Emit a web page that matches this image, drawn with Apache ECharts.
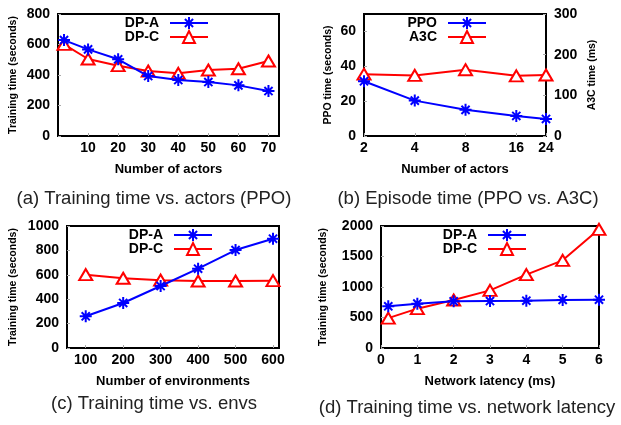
<!DOCTYPE html>
<html><head><meta charset="utf-8">
<script src="https://cdn.jsdelivr.net/npm/echarts@6/dist/echarts.min.js"></script>
<style>html,body{margin:0;padding:0;background:#fff}#c{width:621px;height:425px}</style>
</head><body><div id="c"></div>
<script>
// (a) Training time vs. actors (PPO)
const actorsA = [2, 10, 20, 30, 40, 50, 60, 70];
const dpA_actors = [629, 568, 503, 393, 367, 354, 332, 295];
const dpC_actors = [601, 505, 461, 426, 411, 433, 441, 492];
// (b) Episode time (PPO vs. A3C)
const actorsB = [2, 4, 8, 16, 24];
const ppoTime = [31.4, 20.3, 15.0, 11.5, 9.8];
const a3cTime = [152, 149, 163, 148, 150];
// (c) Training time vs. envs
const envs = [100, 200, 300, 400, 500, 600];
const dpA_envs = [260, 369, 508, 650, 803, 896];
const dpC_envs = [601, 572, 556, 549, 549, 552];
// (d) Training time vs. network latency
const latency = [0.2, 1, 2, 3, 4, 5, 6];
const dpA_lat = [683, 727, 765, 770, 776, 787, 792];
const dpC_lat = [490, 645, 787, 945, 1202, 1437, 1945];
// tick labels
const ticksXA = [10, 20, 30, 40, 50, 60, 70];
const ticksXB = [2, 4, 8, 16, 24];
const ticksXC = [100, 200, 300, 400, 500, 600];
const ticksYBLeft = [0, 20, 40, 60];
const captions = ['(a) Training time vs. actors (PPO)', '(b) Episode time (PPO vs. A3C)', '(c) Training time vs. envs', '(d) Training time vs. network latency'];

const FONT = 'Liberation Sans';
const BLUE = '#0000ff', RED = '#ff0000';
const STAR = 'path://M0,5L10,5M5,0L5,10M1.6,1.6L8.4,8.4M8.4,1.6L1.6,8.4';
const pairs = (xs, ys) => xs.map((x, i) => [x, ys[i]]);
const plain = (v) => String(v);

const labelStyle = {fontFamily: FONT, fontWeight: 'bold', fontSize: 14, color: '#000', formatter: plain};
const nameStyleX = {fontFamily: FONT, fontWeight: 'bold', fontSize: 13, color: '#000'};
const nameStyleY = {fontFamily: FONT, fontWeight: 'bold', fontSize: 10.5, color: '#000'};
const tick = (vals) => ({show: true, inside: true, length: 3, lineStyle: {color: '#aaa', width: 1}, customValues: vals});

function xAxis(grid, opt) {
  return Object.assign({
    gridIndex: grid, type: 'value', nameLocation: 'middle', nameGap: 27,
    nameTextStyle: nameStyleX, axisLine: {show: false}, splitLine: {show: false},
    axisLabel: Object.assign({margin: 5}, labelStyle)
  }, opt);
}
function yAxis(grid, opt) {
  return Object.assign({
    gridIndex: grid, type: 'value', nameLocation: 'middle', nameRotate: 90,
    nameTextStyle: nameStyleY, axisLine: {show: false}, splitLine: {show: false},
    axisLabel: Object.assign({margin: 8}, labelStyle),
    axisTick: {show: true, inside: true, length: 3, lineStyle: {color: '#aaa'}}
  }, opt);
}
function starSeries(name, xi, yi, data) {
  return {name, type: 'line', xAxisIndex: xi, yAxisIndex: yi, data,
    symbol: STAR, symbolSize: 12,
    lineStyle: {color: BLUE, width: 2},
    itemStyle: {color: BLUE, borderColor: BLUE, borderWidth: 2}, z: 3};
}
function triSeries(name, xi, yi, data) {
  return {name, type: 'line', xAxisIndex: xi, yAxisIndex: yi, data,
    symbol: 'emptyTriangle', symbolSize: [13, 11],
    lineStyle: {color: RED, width: 2},
    itemStyle: {color: RED, borderColor: RED, borderWidth: 2}, z: 2};
}
function legend(names, right, top) {
  return {data: names, orient: 'vertical', align: 'right', right, top, padding: 0,
    itemWidth: 38, itemHeight: 15, itemGap: 0, selectedMode: false,
    textStyle: {fontFamily: FONT, fontWeight: 'bold', fontSize: 14, color: '#000', padding: [0, 6, 0, 0]}};
}

const gridBase = {show: true, borderColor: '#000', borderWidth: 2, backgroundColor: 'transparent'};

const option = {
  animation: false,
  backgroundColor: '#fff',
  grid: [
    Object.assign({left: 58, top: 14, width: 221, height: 122}, gridBase),
    Object.assign({left: 364, top: 14, width: 182, height: 122}, gridBase),
    Object.assign({left: 67, top: 226, width: 212, height: 122}, gridBase),
    Object.assign({left: 381, top: 226, width: 218, height: 122}, gridBase)
  ],
  xAxis: [
    xAxis(0, {name: 'Number of actors', min: 0, max: 73.5,
      axisLabel: Object.assign({margin: 5, customValues: ticksXA}, labelStyle), axisTick: tick(ticksXA)}),
    xAxis(1, {name: 'Number of actors', type: 'log', logBase: 2, min: 2, max: 24,
      axisLabel: Object.assign({margin: 5, customValues: ticksXB}, labelStyle), axisTick: tick(ticksXB)}),
    xAxis(2, {name: 'Number of environments', min: 50, max: 616,
      axisLabel: Object.assign({margin: 5, customValues: ticksXC}, labelStyle), axisTick: tick(ticksXC)}),
    xAxis(3, {name: 'Network latency (ms)', min: 0, max: 6, interval: 1,
      axisTick: {show: true, inside: true, length: 3, lineStyle: {color: '#aaa'}}})
  ],
  yAxis: [
    yAxis(0, {name: 'Training time (seconds)', nameGap: 39, min: 0, max: 800, interval: 200}),
    yAxis(1, {name: 'PPO time (seconds)', nameGap: 30, min: 0, max: 70,
      axisLabel: Object.assign({margin: 8, customValues: ticksYBLeft}, labelStyle), axisTick: tick(ticksYBLeft)}),
    yAxis(1, {name: 'A3C time (ms)', position: 'right', nameGap: 41, min: 0, max: 300, interval: 100}),
    yAxis(2, {name: 'Training time (seconds)', nameGap: 48, min: 0, max: 1000, interval: 200}),
    yAxis(3, {name: 'Training time (seconds)', nameGap: 52, min: 0, max: 2000, interval: 500})
  ],
  legend: [
    legend(['DP-A', 'DP-C'], 412, 16),
    legend(['PPO', 'A3C'], 134, 16),
    legend(['DP-A', 'DP-C'], 408, 228),
    legend(['DP-A', 'DP-C'], 94, 228)
  ],
  series: [
    starSeries('DP-A', 0, 0, pairs(actorsA, dpA_actors)),
    triSeries('DP-C', 0, 0, pairs(actorsA, dpC_actors)),
    starSeries('PPO', 1, 1, pairs(actorsB, ppoTime)),
    triSeries('A3C', 1, 2, pairs(actorsB, a3cTime)),
    starSeries('DP-A', 2, 3, pairs(envs, dpA_envs)),
    triSeries('DP-C', 2, 3, pairs(envs, dpC_envs)),
    starSeries('DP-A', 3, 4, pairs(latency, dpA_lat)),
    triSeries('DP-C', 3, 4, pairs(latency, dpC_lat))
  ],
  graphic: [
    {type: 'text', x: 154, y: 199, style: {text: captions[0], textAlign: 'center', textVerticalAlign: 'middle', font: '18.5px "Liberation Sans"', fill: '#222'}},
    {type: 'text', x: 468, y: 199, style: {text: captions[1], textAlign: 'center', textVerticalAlign: 'middle', font: '18.5px "Liberation Sans"', fill: '#222'}},
    {type: 'text', x: 154, y: 404, style: {text: captions[2], textAlign: 'center', textVerticalAlign: 'middle', font: '18.5px "Liberation Sans"', fill: '#222'}},
    {type: 'text', x: 467, y: 408, style: {text: captions[3], textAlign: 'center', textVerticalAlign: 'middle', font: '18.5px "Liberation Sans"', fill: '#222'}}
  ]
};
const chart = echarts.init(document.getElementById('c'), null, {renderer: 'canvas'});
chart.setOption(option);
</script></body></html>
